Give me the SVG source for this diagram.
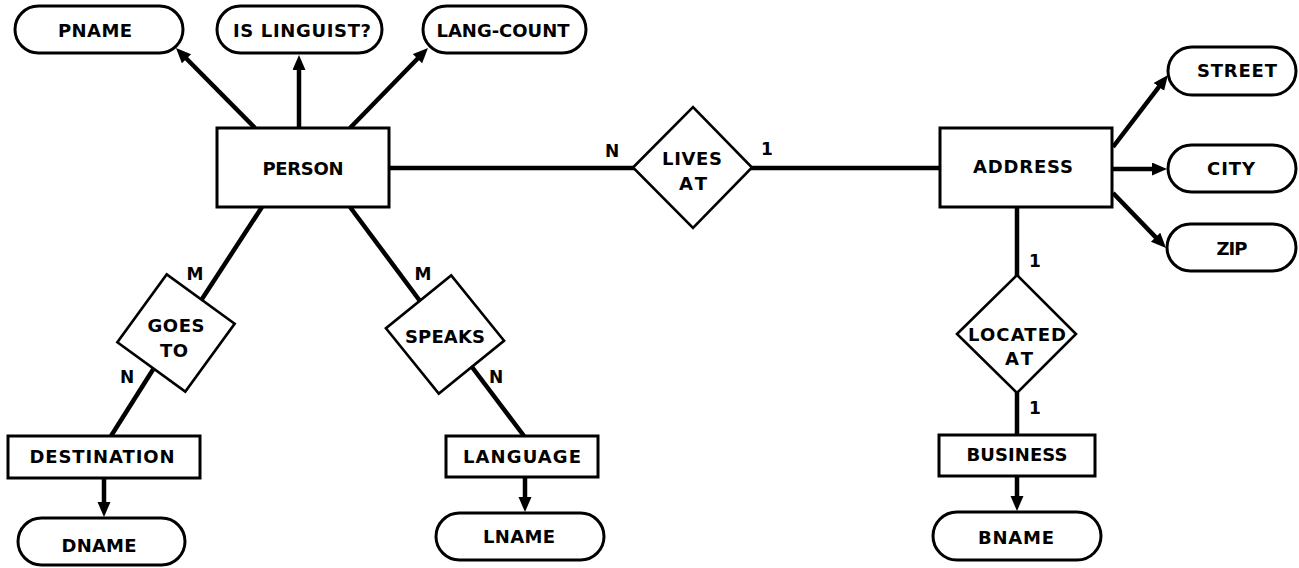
<svg xmlns="http://www.w3.org/2000/svg" width="1299" height="568" viewBox="0 0 1299 568">
  <defs>
    <style>
      .ent { fill: #fff; stroke: #000; stroke-width: 3; }
      .attr { fill: #fff; stroke: #000; stroke-width: 3; }
      .rel { fill: #fff; stroke: #000; stroke-width: 2.6; stroke-linejoin: miter; }
      .lbl { font-family: "DejaVu Sans", "Liberation Sans", Arial, sans-serif; font-weight: bold; font-size: 18px; fill: #000; text-anchor: middle; }
      .card { font-family: "DejaVu Sans", "Liberation Sans", Arial, sans-serif; font-weight: bold; font-size: 17px; fill: #000; text-anchor: middle; }
      .edge { stroke: #000; stroke-width: 4.5; fill: none; }
      .arrow { stroke: #000; stroke-width: 4.5; fill: none; marker-end: url(#head); }
    </style>
    <marker id="head" markerUnits="userSpaceOnUse" markerWidth="16" markerHeight="14" refX="1" refY="6.5" orient="auto">
      <path d="M0,0 L15,6.5 L0,13 Z" fill="#000"/>
    </marker>
  </defs>
  <rect width="1299" height="568" fill="#fff"/>

  <!-- connectors -->
  <g id="connectors">
    <!-- PERSON attributes -->
    <line class="arrow" x1="255" y1="128" x2="185.8" y2="58"/>
    <line class="arrow" x1="299" y1="128" x2="299" y2="69"/>
    <line class="arrow" x1="350" y1="128" x2="418.2" y2="58"/>
    <!-- PERSON - LIVES AT - ADDRESS -->
    <line class="edge" x1="389" y1="168" x2="634" y2="168"/>
    <line class="edge" x1="751" y1="168" x2="940" y2="168"/>
    <!-- PERSON - GOES TO - DESTINATION -->
    <line class="edge" x1="262" y1="207" x2="202" y2="299"/>
    <line class="edge" x1="154" y1="368" x2="111" y2="436"/>
    <!-- PERSON - SPEAKS - LANGUAGE -->
    <line class="edge" x1="350" y1="207" x2="420" y2="301"/>
    <line class="edge" x1="472" y1="367" x2="524" y2="436"/>
    <!-- ADDRESS attributes -->
    <line class="arrow" x1="1113" y1="147" x2="1159.5" y2="86.1"/>
    <line class="arrow" x1="1113" y1="169" x2="1153" y2="169"/>
    <line class="arrow" x1="1113" y1="193" x2="1156.3" y2="237.9"/>
    <!-- ADDRESS - LOCATED AT - BUSINESS -->
    <line class="edge" x1="1017" y1="207" x2="1017" y2="276"/>
    <line class="edge" x1="1017" y1="392" x2="1017" y2="435"/>
    <!-- entity name attributes -->
    <line class="arrow" x1="104" y1="478" x2="104" y2="503"/>
    <line class="arrow" x1="525" y1="477" x2="525" y2="498"/>
    <line class="arrow" x1="1017" y1="476" x2="1017" y2="497"/>

    <!-- cardinalities -->
    <text class="card" x="612" y="157">N</text>
    <text class="card" x="767" y="155">1</text>
    <text class="card" x="195" y="280">M</text>
    <text class="card" x="127" y="383">N</text>
    <text class="card" x="423" y="280">M</text>
    <text class="card" x="496" y="383">N</text>
    <text class="card" x="1035" y="267">1</text>
    <text class="card" x="1035" y="414">1</text>
  </g>

  <!-- PERSON entity and attributes -->
  <g id="person">
    <rect class="ent" x="217" y="128" width="172" height="79"/>
    <text class="lbl" x="303" y="175" textLength="81">PERSON</text>
  </g>
  <g id="pname">
    <rect class="attr" x="15" y="6" width="168" height="47" rx="23.5"/>
    <text class="lbl" x="95" y="37" textLength="74">PNAME</text>
  </g>
  <g id="is-linguist">
    <rect class="attr" x="217" y="6" width="165" height="47" rx="23.5"/>
    <text class="lbl" x="302" y="37" textLength="138">IS LINGUIST?</text>
  </g>
  <g id="lang-count">
    <rect class="attr" x="423" y="6" width="163" height="47" rx="23.5"/>
    <text class="lbl" x="503" y="37" textLength="133">LANG-COUNT</text>
  </g>

  <!-- LIVES AT relationship -->
  <g id="lives-at">
    <polygon class="rel" points="633,167.5 693,107 752,167.5 693,228"/>
    <text class="lbl" x="692" y="165" textLength="60">LIVES</text>
    <text class="lbl" x="693" y="190" textLength="28">AT</text>
  </g>

  <!-- ADDRESS entity and attributes -->
  <g id="address">
    <rect class="ent" x="940" y="128" width="172" height="79"/>
    <text class="lbl" x="1023" y="173" textLength="100">ADDRESS</text>
  </g>
  <g id="street">
    <rect class="attr" x="1168" y="47" width="128" height="48" rx="24"/>
    <text class="lbl" x="1237" y="77" textLength="80">STREET</text>
  </g>
  <g id="city">
    <rect class="attr" x="1168" y="145" width="128" height="47" rx="23.5"/>
    <text class="lbl" x="1231" y="175" textLength="48">CITY</text>
  </g>
  <g id="zip">
    <rect class="attr" x="1167" y="224" width="129" height="47" rx="23.5"/>
    <text class="lbl" x="1232" y="255" textLength="31">ZIP</text>
  </g>

  <!-- LOCATED AT relationship -->
  <g id="located-at">
    <polygon class="rel" points="957,334 1017,275 1076,334 1017,393"/>
    <text class="lbl" x="1017" y="341" textLength="98">LOCATED</text>
    <text class="lbl" x="1019" y="365" textLength="28">AT</text>
  </g>

  <!-- BUSINESS entity -->
  <g id="business">
    <rect class="ent" x="939" y="435" width="156" height="41"/>
    <text class="lbl" x="1017" y="461" textLength="101">BUSINESS</text>
  </g>
  <g id="bname">
    <rect class="attr" x="933" y="512" width="168" height="48" rx="24"/>
    <text class="lbl" x="1016" y="544" textLength="76">BNAME</text>
  </g>

  <!-- GOES TO relationship -->
  <g id="goes-to">
    <rect class="rel" x="-42" y="-42" width="84" height="84" transform="translate(176,333) rotate(36)"/>
    <text class="lbl" x="176" y="332" textLength="57">GOES</text>
    <text class="lbl" x="174" y="357" textLength="28">TO</text>
  </g>

  <!-- DESTINATION entity -->
  <g id="destination">
    <rect class="ent" x="8" y="436" width="192" height="42"/>
    <text class="lbl" x="102" y="463" textLength="145">DESTINATION</text>
  </g>
  <g id="dname">
    <rect class="attr" x="18" y="518" width="167" height="47" rx="23.5"/>
    <text class="lbl" x="99" y="552" textLength="75">DNAME</text>
  </g>

  <!-- SPEAKS relationship -->
  <g id="speaks">
    <rect class="rel" x="-42" y="-42" width="84" height="84" transform="translate(445,334.5) rotate(51)"/>
    <text class="lbl" x="445" y="343" textLength="80">SPEAKS</text>
  </g>

  <!-- LANGUAGE entity -->
  <g id="language">
    <rect class="ent" x="446" y="436" width="152" height="41"/>
    <text class="lbl" x="522" y="463" textLength="118">LANGUAGE</text>
  </g>
  <g id="lname">
    <rect class="attr" x="436" y="513" width="168" height="47" rx="23.5"/>
    <text class="lbl" x="519" y="543" textLength="72">LNAME</text>
  </g>
</svg>
